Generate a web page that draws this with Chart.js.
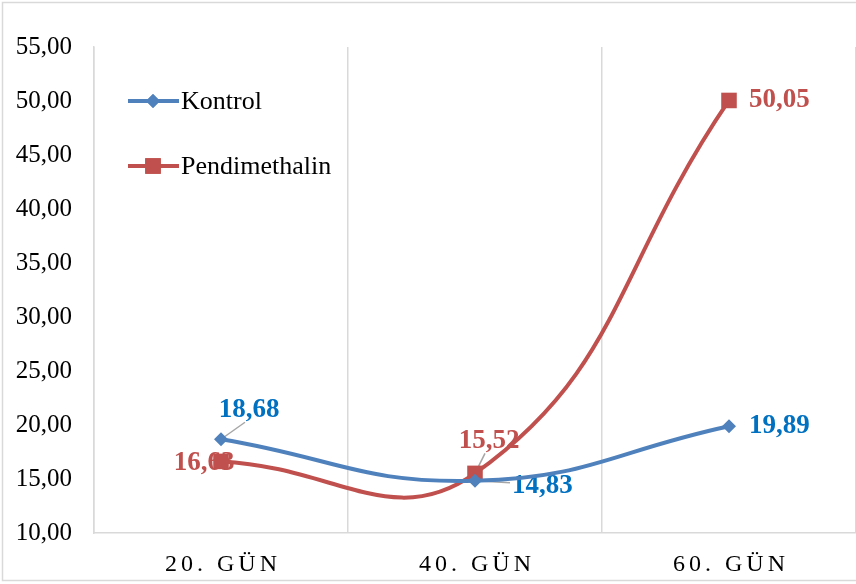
<!DOCTYPE html>
<html>
<head>
<meta charset="utf-8">
<script src="https://cdn.jsdelivr.net/npm/chart.js@4/dist/chart.umd.min.js"></script>
<style>
  html, body { margin: 0; padding: 0; background: #fff; }
  #wrap { width: 856px; height: 584px; }
</style>
</head>
<body>
<div id="wrap"><canvas id="chart" width="856" height="584"></canvas></div>
<script>
// data
var categories = ['20. GÜN', '40. GÜN', '60. GÜN'];
var kontrol = [18.68, 14.83, 19.89];
var pendimethalin = [16.63, 15.52, 50.05];
var yTicks = [10, 15, 20, 25, 30, 35, 40, 45, 50, 55];

var blue = '#4F81BD';
var red = '#C0504D';
var fmt = function (v) { return v.toFixed(2).replace('.', ','); };

// label placement relative to each point: [dx, dy, align, leader]
var labelPos = {
    0: [[28, -29, 'center', true], [37, 5, 'left', true], [20, 0, 'left', false]],
    1: [[-17, 2, 'center', false], [14, -32, 'center', true], [20, 0, 'left', false]]
};
var labelColors = ['#0070C0', '#C0504D'];

var labelsPlugin = {
    id: 'labels',
    beforeDatasetsDraw: function (chart) {
        var ctx = chart.ctx;
        ctx.save();
        ctx.font = 'bold 27px "Liberation Serif", serif';
        ctx.textBaseline = 'middle';
        chart.data.datasets.forEach(function (ds, di) {
            var meta = chart.getDatasetMeta(di);
            meta.data.forEach(function (pt, i) {
                var p = labelPos[di][i];
                var tx = pt.x + p[0], ty = pt.y + p[1];
                if (p[3]) {
                    ctx.strokeStyle = '#A6A6A6';
                    ctx.lineWidth = 1.5;
                    ctx.beginPath();
                    if (p[2] === 'left') {
                        ctx.moveTo(tx - 2, ty - 3);
                    } else {
                        ctx.moveTo(tx - 4 * Math.sign(p[0]), ty + 12);
                    }
                    ctx.lineTo(pt.x, pt.y);
                    ctx.stroke();
                }
                ctx.fillStyle = labelColors[di];
                ctx.textAlign = p[2];
                ctx.fillText(fmt(ds.data[i]), tx, ty);
            });
        });
        ctx.restore();
    },
    afterDraw: function (chart) {
        var ctx = chart.ctx;
        var area = chart.chartArea;
        var xs = chart.scales.x;
        ctx.save();
        // outer frame
        ctx.strokeStyle = '#D9D9D9';
        ctx.lineWidth = 1.5;
        ctx.beginPath();
        ctx.moveTo(856, 2.5);
        ctx.lineTo(2.5, 2.5);
        ctx.lineTo(2.5, 580.5);
        ctx.lineTo(856, 580.5);
        ctx.stroke();

        // letter-spaced category labels
        ctx.fillStyle = '#000';
        ctx.font = '24px "Liberation Serif", serif';
        ctx.textAlign = 'center';
        ctx.textBaseline = 'middle';
        ctx.letterSpacing = '4px';
        categories.forEach(function (c, i) {
            ctx.fillText(c, xs.getPixelForValue(i) + 2, 565);
        });
        ctx.letterSpacing = '0px';

        // legend inside plot
        var items = [
            { text: 'Kontrol', color: blue, style: 'rectRot', r: 7, y: area.top + 54 },
            { text: 'Pendimethalin', color: red, style: 'rect', r: 11, y: area.top + 119 }
        ];
        ctx.font = '26px "Liberation Serif", serif';
        ctx.textAlign = 'left';
        items.forEach(function (it) {
            var x0 = area.left + 34;
            ctx.strokeStyle = it.color;
            ctx.lineWidth = 4;
            ctx.beginPath();
            ctx.moveTo(x0, it.y);
            ctx.lineTo(x0 + 51, it.y);
            ctx.stroke();
            ctx.fillStyle = it.color;
            Chart.helpers.drawPoint(ctx, { pointStyle: it.style, radius: it.r, borderWidth: 0 }, x0 + 25, it.y);
            ctx.fill();
            ctx.fillStyle = '#000';
            ctx.fillText(it.text, x0 + 53, it.y + 1);
        });
        ctx.restore();
    }
};

var ctx = document.getElementById('chart').getContext('2d');
var chart = new Chart(ctx, {
    type: 'line',
    data: {
        labels: categories,
        datasets: [{
            label: 'Kontrol',
            data: kontrol,
            borderColor: blue,
            backgroundColor: blue,
            borderWidth: 4,
            pointStyle: 'rectRot',
            pointRadius: 7,
            pointBorderWidth: 0,
            tension: 0.45
        }, {
            label: 'Pendimethalin',
            data: pendimethalin,
            borderColor: red,
            backgroundColor: red,
            borderWidth: 4,
            pointStyle: 'rect',
            pointRadius: 11,
            pointBorderWidth: 0,
            tension: 0.45
        }]
    },
    options: {
        responsive: false,
        animation: false,
        layout: { autoPadding: false, padding: { top: 47, right: -6, left: 0, bottom: 0 } },
        plugins: {
            legend: { display: false },
            tooltip: { enabled: false }
        },
        scales: {
            x: {
                offset: true,
                grid: { offset: true, color: '#D9D9D9', lineWidth: 1.5, drawTicks: false },
                border: { color: '#D9D9D9', width: 1.5 },
                ticks: { display: false },
                afterFit: function (s) { s.height = 51; }
            },
            y: {
                min: 10,
                max: 55,
                afterBuildTicks: function (s) { s.ticks = yTicks.map(function (v) { return { value: v }; }); },
                grid: { display: false, drawTicks: false },
                border: { color: '#D9D9D9', width: 1.5 },
                ticks: {
                    color: '#000',
                    padding: 22,
                    font: { family: '"Liberation Serif", serif', size: 25 },
                    callback: function (v) { return fmt(v); }
                },
                afterFit: function (s) { s.width = 94; }
            }
        }
    },
    plugins: [labelsPlugin]
});
</script>
</body>
</html>
